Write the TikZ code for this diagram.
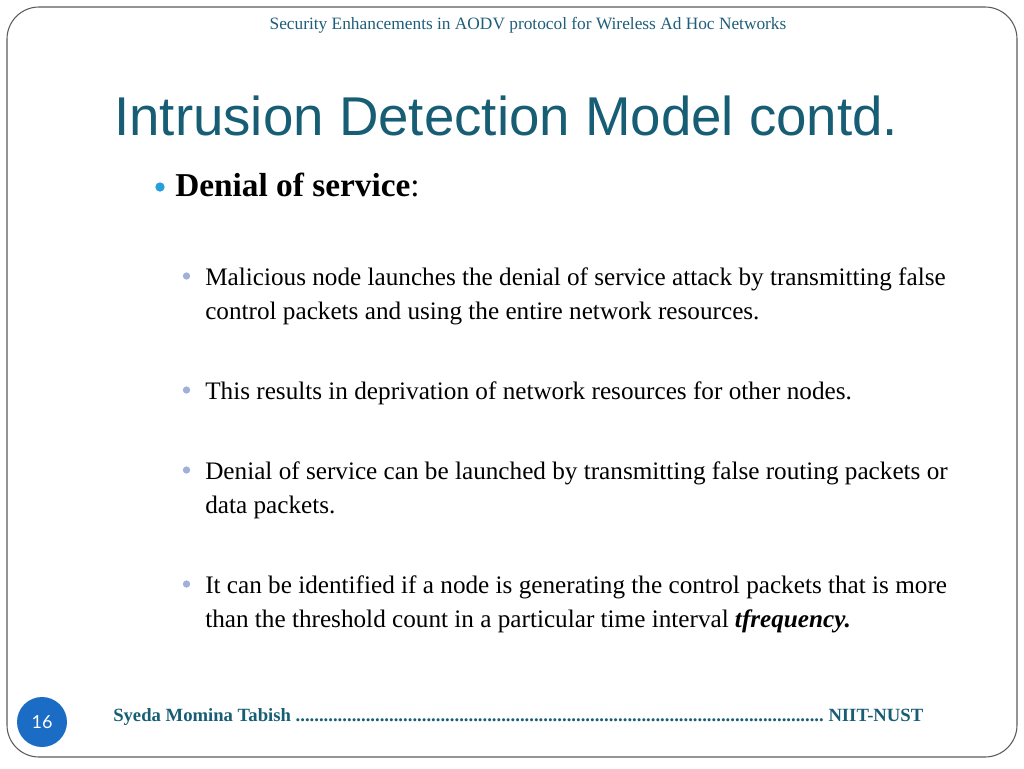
\documentclass[tikz,border=0pt]{standalone}
\usepackage{fontspec}
\setmainfont{Liberation Serif}
\newfontfamily\titlefont{Liberation Sans}
\newfontfamily\numfont{Lato}
\definecolor{teal}{RGB}{23,94,117}
\definecolor{hdr}{RGB}{31,94,122}
\definecolor{bulA}{RGB}{38,160,218}
\definecolor{bulB}{RGB}{160,176,216}
\definecolor{circ}{RGB}{26,108,196}
\definecolor{framec}{RGB}{90,90,90}
\begin{document}
\begin{tikzpicture}[x=0.75pt,y=-0.75pt,
  txt/.style={anchor=base west,inner sep=0pt,font=\fontsize{18.9}{22}\selectfont},
  lvlA/.style={circle,fill=bulA,inner sep=0pt,minimum size=7pt},
  lvlB/.style={circle,fill=bulB,inner sep=0pt,minimum size=5.5pt}]
\useasboundingbox (0,0) rectangle (1024,768);
\draw[framec,line width=0.8pt,rounded corners=24pt] (7,7) rectangle (1017,757);
\node[anchor=base,inner sep=0pt,text=hdr,font=\fontsize{13}{15}\selectfont] (hdr) at (528,29.5) {Security Enhancements in AODV protocol for Wireless Ad Hoc Networks};
\node[anchor=base west,inner sep=0pt,text=teal,font=\titlefont\fontsize{41}{48}\selectfont] (title) at (114,135) {Intrusion Detection Model contd.};
\node[lvlA] (b0) at (160,187) {};
\node[anchor=base west,inner sep=0pt,font=\fontsize{25}{30}\selectfont] (t0) at (175,196) {\textbf{Denial of service}:};
\node[lvlB] (b1) at (186.5,276) {};
\node[txt] (t1a) at (205,285) {Malicious node launches the denial of service attack by transmitting false};
\node[txt] (t1b) at (205,319) {control packets and using the entire network resources.};
\node[lvlB] (b2) at (186.5,390) {};
\node[txt] (t2a) at (205,399) {This results in deprivation of network resources for other nodes.};
\node[lvlB] (b3) at (186.5,470) {};
\node[txt] (t3a) at (205,479) {Denial of service can be launched by transmitting false routing packets or};
\node[txt] (t3b) at (205,513) {data packets.};
\node[lvlB] (b4) at (186.5,584) {};
\node[txt] (t4a) at (205,593) {It can be identified if a node is generating the control packets that is more};
\node[txt] (t4b) at (205,627) {than the threshold count in a particular time interval \textbf{\textit{tfrequency.}}};
\node[circle,fill=circ,minimum size=37.5pt,inner sep=0pt,text=white,font=\numfont\fontsize{13.5}{16}\selectfont] (num) at (42,722) {16};
\node[anchor=base west,inner sep=0pt,text=teal,font=\bfseries\fontsize{14}{16}\selectfont] (foot) at (113,721) {\hbox to 607.5pt{Syeda Momina Tabish \xleaders\hbox{.}\hfill\ NIIT-NUST}};
\end{tikzpicture}
\end{document}
